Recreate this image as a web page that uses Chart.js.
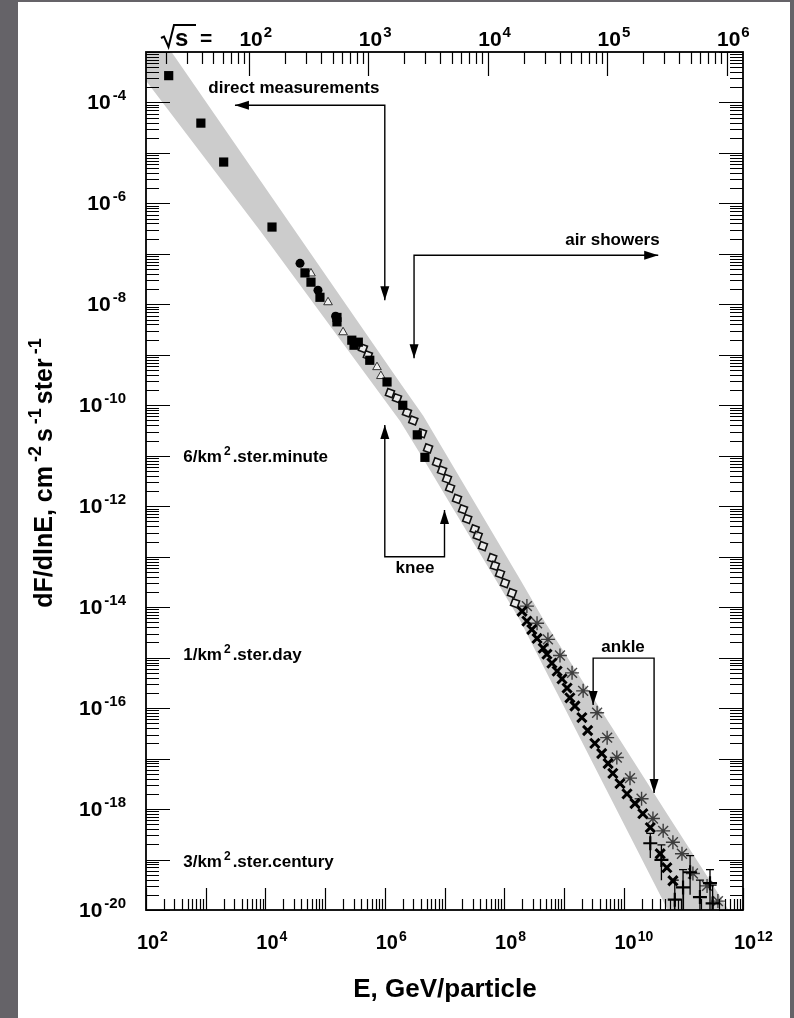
<!DOCTYPE html>
<html>
<head>
<meta charset="utf-8">
<script src="https://cdn.jsdelivr.net/npm/chart.js@4.4.0/dist/chart.umd.min.js"></script>
<style>
html,body{margin:0;padding:0;background:#656368;}
#hoja{position:absolute;left:18px;top:2px;width:772px;height:1016px;background:#fff;}
#caja{position:absolute;left:0;top:0;width:794px;height:1018px;}
</style>
</head>
<body>
<div id="hoja"></div>
<div id="caja"><canvas id="espectro" width="794" height="1018"></canvas></div>
<script>
// rangos de los ejes (E en GeV, flujo en cm^-2 s^-1 sr^-1)
const E_MIN = 1e2, E_MAX = 1e12;
const F_MIN = 1e-20, F_MAX = 1e-3;
const DOS_MP = 1.876; // 2*m_p en GeV, sqrt(s) = sqrt(2 m_p E)

// banda gris del espectro
const bandaE  = [1e2, 8.1e3, 1.8e6, 4.4e6, 1.86e8, 4.8e8, 5.5e10, 4.2e11, 1e12];
const bandaHi = [5.4e-3, 2.9e-6, 2.8e-10, 6.2e-11, 3.5e-14, 5.1e-15, 7.6e-19, 1.8e-20, 3.5e-21];
const bandaLo = [2.7e-4, 2.9e-7, 4.9e-11, 8.7e-12, 5.4e-15, 5.9e-16, 1.0e-20, 8.9e-23, 1.2e-23];

// medidas directas (cuadrados llenos)
const llenosE = [2.4e2, 8.3e2, 2.0e3, 1.29e4, 4.6e4, 5.8e4, 8.2e4, 1.58e5, 1.58e5, 2.8e5, 3.6e5, 3.05e5, 5.6e5, 1.09e6, 2.0e6, 3.5e6, 4.7e6];
const llenosF = [3.4e-4, 3.9e-5, 6.6e-6, 3.4e-7, 4.2e-8, 2.75e-8, 1.38e-8, 5.5e-9, 4.5e-9, 1.95e-9, 1.78e-9, 1.55e-9, 7.8e-10, 2.9e-10, 1.0e-10, 2.6e-11, 9.3e-12];

// circulos llenos
const circE = [3.8e4, 7.6e4, 1.5e5];
const circF = [6.5e-8, 1.9e-8, 5.8e-9];

// triangulos abiertos
const triE = [5.8e4, 1.12e5, 2.0e5, 7.4e5, 8.6e5];
const triF = [4.1e-8, 1.1e-8, 2.8e-9, 5.7e-10, 3.8e-10];

// cascadas (cuadrados abiertos)
const abiertosE = [4.3e5, 5.2e5, 1.22e6, 1.6e6, 2.35e6, 3.0e6, 4.2e6, 5.3e6, 7.5e6, 9.1e6, 1.1e7, 1.24e7, 1.62e7, 2.04e7, 2.4e7, 3.2e7, 3.6e7, 4.4e7, 6.3e7, 7.0e7, 8.5e7, 1.03e8, 1.35e8, 1.52e8];
const abiertosF = [1.35e-9, 9.8e-10, 1.74e-10, 1.38e-10, 7.2e-11, 5.0e-11, 2.8e-11, 1.4e-11, 7.4e-12, 5.1e-12, 3.5e-12, 2.3e-12, 1.4e-12, 8.7e-13, 5.6e-13, 3.5e-13, 2.6e-13, 1.62e-13, 9.4e-14, 6.6e-14, 4.6e-14, 3.0e-14, 1.9e-14, 1.2e-14];

// cruces
const crucesE = [1.99e8, 2.4e8, 2.9e8, 3.55e8, 4.5e8, 5.2e8, 6.3e8, 7.7e8, 9.3e8, 1.13e9, 1.26e9, 1.53e9, 2.0e9, 2.5e9, 3.3e9, 4.3e9, 5.5e9, 6.6e9, 8.7e9, 1.14e10, 1.55e10, 2.1e10, 2.8e10, 4.1e10, 5.3e10, 6.7e10];
const crucesF = [8.3e-15, 5.3e-15, 3.6e-15, 2.4e-15, 1.54e-15, 1.17e-15, 7.8e-16, 5.4e-16, 3.8e-16, 2.5e-16, 1.6e-16, 1.1e-16, 6.5e-17, 3.6e-17, 2.0e-17, 1.26e-17, 8.0e-18, 5.1e-18, 3.2e-18, 2.0e-18, 1.29e-18, 8.1e-19, 4.3e-19, 1.3e-19, 6.9e-20, 3.8e-20];

// asteriscos
const astE = [2.4e8, 3.55e8, 5.4e8, 8.6e8, 1.37e9, 2.1e9, 3.6e9, 5.3e9, 7.7e9, 1.28e10, 2.0e10, 3.1e10, 4.6e10, 6.7e10, 9.5e10, 1.45e11, 2.5e11, 3.8e11];
const astF = [1.05e-14, 4.8e-15, 2.3e-15, 1.1e-15, 5.0e-16, 2.2e-16, 8.1e-17, 2.6e-17, 1.05e-17, 4.1e-18, 1.6e-18, 6.5e-19, 3.7e-19, 2.2e-19, 1.3e-19, 5.3e-20, 3.0e-20, 1.5e-20];

// cola de altas energias con barras de error
const colaE  = [2.8e10, 4.3e10, 7.2e10, 9.9e10, 1.3e11, 1.9e11, 2.8e11, 3.1e11];
const colaF  = [2.1e-19, 9.8e-20, 1.6e-20, 2.8e-20, 5.6e-20, 1.8e-20, 3.4e-20, 1.35e-20];
const colaHi = [3.3e-19, 1.95e-19, 3.9e-20, 6.3e-20, 1.2e-19, 3.9e-20, 6.3e-20, 3.1e-20];
const colaLo = [1.07e-19, 3.9e-20, 1e-21, 1e-21, 2.0e-20, 1e-21, 1e-21, 1e-21];

// marcas de etiquetas
const etiqE = [2, 4, 6, 8, 10, 12];
const etiqF = [-4, -6, -8, -10, -12, -14, -16, -18, -20];
const etiqS = [2, 3, 4, 5, 6];

// flechas y textos
const flechas = [
  [[3.09e3, 8.79e-5], [1e6, 8.79e-5], [1e6, 1.21e-8]],
  [[3.8e10, 9.4e-8], [3.09e6, 9.4e-8], [3.09e6, 8.6e-10]],
  [[1e6, 4.07e-11], [1e6, 1e-13], [1e7, 1e-13], [1e7, 8.4e-13]],
  [[3.09e9, 1.15e-16], [3.09e9, 9.8e-16], [3.24e10, 9.8e-16], [3.24e10, 2.09e-18]]
];
const textos = [
  ['direct measurements', 3.0e4, 1.9e-4],
  ['air showers', 6.5e9, 1.86e-7],
  ['knee', 3.2e6, 5.9e-14],
  ['ankle', 9.8e9, 1.6e-15]
];
const tasas = [
  [['6/km', 0], ['2', 1], ['.ster.minute', 0], 1e-11],
  [['1/km', 0], ['2', 1], ['.ster.day', 0], 1.16e-15],
  [['3/km', 0], ['2', 1], ['.ster.century', 0], 9.5e-20]
];
const TASA_E = 4.2e2;

const fam = '"Liberation Sans", Arial, Helvetica, sans-serif';

function pares(xs, ys) {
  return xs.map((x, i) => ({x: x, y: ys[i]}));
}

function marcasLog(lo, hi) {
  const out = [];
  for (let d = Math.floor(Math.log10(lo)); d <= Math.ceil(Math.log10(hi)); d++) {
    for (let m = 1; m < 10; m++) {
      const v = m * Math.pow(10, d);
      if (v >= lo * 0.999 && v <= hi * 1.001) out.push({v: v, mayor: m === 1});
    }
  }
  return out;
}

// texto con superindices: segs = [[texto, esSup], ...]
function escribir(ctx, segs, x, y, tam, align, sep) {
  const tamSup = Math.round(tam * 0.7);
  const subir = Math.round(tam * 0.42);
  sep = sep === undefined ? 2 : sep;
  const anchos = segs.map(([t, s]) => {
    ctx.font = 'bold ' + (s ? tamSup : tam) + 'px ' + fam;
    return ctx.measureText(t).width + (s ? 2 * sep : 0);
  });
  const total = anchos.reduce((a, b) => a + b, 0);
  let cx = align === 'center' ? x - total / 2 : align === 'right' ? x - total : x;
  ctx.textAlign = 'left';
  ctx.textBaseline = 'alphabetic';
  segs.forEach(([t, s], i) => {
    ctx.font = 'bold ' + (s ? tamSup : tam) + 'px ' + fam;
    ctx.fillText(t, cx + (s ? sep : 0), s ? y - subir : y);
    cx += anchos[i];
  });
  return total;
}

function potencia(ctx, exp, px, y, tam) {
  ctx.font = 'bold ' + tam + 'px ' + fam;
  const w = ctx.measureText('10').width;
  escribir(ctx, [['10', 0], [String(exp), 1]], px + 2 - w / 2, y, tam, 'left', 1);
}

function punta(ctx, a, b) {
  const ang = Math.atan2(b[1] - a[1], b[0] - a[0]);
  const L = 14, H = 4.5;
  ctx.beginPath();
  ctx.moveTo(b[0], b[1]);
  ctx.lineTo(b[0] - L * Math.cos(ang) + H * Math.sin(ang), b[1] - L * Math.sin(ang) - H * Math.cos(ang));
  ctx.lineTo(b[0] - L * Math.cos(ang) - H * Math.sin(ang), b[1] - L * Math.sin(ang) + H * Math.cos(ang));
  ctx.closePath();
  ctx.fill();
}

const ejes = {
  id: 'ejes',
  afterDatasetsDraw(chart) {
    const ctx = chart.ctx;
    const {left, right, top, bottom} = chart.chartArea;
    const sx = chart.scales.x, sy = chart.scales.y, s2 = chart.scales.x2;
    ctx.save();
    ctx.strokeStyle = '#000';

    // barras de error de la cola
    ctx.lineWidth = 1.3;
    colaE.forEach((e, i) => {
      const px = sx.getPixelForValue(e);
      const y1 = Math.min(sy.getPixelForValue(colaLo[i]), bottom);
      const y2 = sy.getPixelForValue(colaHi[i]);
      ctx.beginPath();
      ctx.moveTo(px, y1); ctx.lineTo(px, y2);
      ctx.moveTo(px - 4, y2); ctx.lineTo(px + 4, y2);
      ctx.stroke();
    });

    // marco
    ctx.lineWidth = 1.8;
    ctx.strokeRect(left, top, right - left, bottom - top);

    // marcas hacia adentro
    ctx.lineWidth = 1.2;
    ctx.beginPath();
    marcasLog(E_MIN, E_MAX).forEach(t => {
      const px = Math.round(sx.getPixelForValue(t.v)) + 0.5;
      ctx.moveTo(px, bottom); ctx.lineTo(px, bottom - (t.mayor ? 22 : 11));
    });
    marcasLog(s2.min, s2.max).forEach(t => {
      const px = Math.round(s2.getPixelForValue(t.v)) + 0.5;
      ctx.moveTo(px, top); ctx.lineTo(px, top + (t.mayor ? 24 : 12));
    });
    marcasLog(F_MIN, F_MAX).forEach(t => {
      const py = Math.round(sy.getPixelForValue(t.v)) + 0.5;
      ctx.moveTo(left, py); ctx.lineTo(left + (t.mayor ? 24 : 13), py);
      ctx.moveTo(right, py); ctx.lineTo(right - (t.mayor ? 24 : 13), py);
    });
    ctx.stroke();
    ctx.restore();
  },
  afterDraw(chart) {
    const ctx = chart.ctx;
    const {left, right, top, bottom} = chart.chartArea;
    const sx = chart.scales.x, sy = chart.scales.y, s2 = chart.scales.x2;
    ctx.save();
    ctx.fillStyle = '#000';
    ctx.strokeStyle = '#000';

    // etiquetas de los ejes
    etiqE.forEach(d => potencia(ctx, d, sx.getPixelForValue(Math.pow(10, d)), bottom + 39, 20));
    etiqS.forEach(d => potencia(ctx, d, s2.getPixelForValue(Math.pow(10, d)), top - 6, 21));
    etiqF.forEach(d => {
      const py = sy.getPixelForValue(Math.pow(10, d));
      escribir(ctx, [['10', 0], [String(d), 1]], left - 18, py + 7, 21, 'right', 2);
    });

    // sqrt(s) =
    ctx.lineWidth = 2;
    ctx.beginPath();
    ctx.moveTo(161, 38); ctx.lineTo(164, 36.5); ctx.lineTo(168.5, 47); ctx.lineTo(174, 25); ctx.lineTo(196, 25);
    ctx.stroke();
    ctx.font = 'bold 24px ' + fam;
    ctx.textAlign = 'left';
    ctx.textBaseline = 'alphabetic';
    ctx.fillText('s', 175, 46);
    ctx.font = 'bold 21px ' + fam;
    ctx.fillText('=', 200, 45);

    // titulos
    ctx.font = 'bold 26px ' + fam;
    ctx.textAlign = 'center';
    ctx.fillText('E, GeV/particle', 445, 997);
    ctx.save();
    ctx.translate(52, 471);
    ctx.rotate(-Math.PI / 2);
    escribir(ctx, [['dF/dlnE, cm', 0], ['-2', 1], ['s', 0], ['-1', 1], ['ster', 0], ['-1', 1]], 0, 0, 25, 'center', 4);
    ctx.restore();

    // flechas
    ctx.lineWidth = 1.4;
    flechas.forEach(f => {
      const p = f.map(([e, v]) => [sx.getPixelForValue(e), sy.getPixelForValue(v)]);
      ctx.beginPath();
      ctx.moveTo(p[0][0], p[0][1]);
      for (let i = 1; i < p.length; i++) ctx.lineTo(p[i][0], p[i][1]);
      ctx.stroke();
      punta(ctx, p[1], p[0]);
      punta(ctx, p[p.length - 2], p[p.length - 1]);
    });

    textos.forEach(([t, e, v]) => {
      ctx.font = 'bold 17px ' + fam;
      ctx.textAlign = 'center';
      ctx.textBaseline = 'middle';
      ctx.fillText(t, sx.getPixelForValue(e), sy.getPixelForValue(v));
    });
    tasas.forEach(t => {
      escribir(ctx, t.slice(0, 3), sx.getPixelForValue(TASA_E), sy.getPixelForValue(t[3]) + 6, 17, 'left', 2);
    });
    ctx.restore();
  }
};

new Chart(document.getElementById('espectro'), {
  type: 'scatter',
  data: {
    datasets: [
      {type: 'line', label: 'bandaHi', data: pares(bandaE, bandaHi), borderWidth: 0, pointRadius: 0, fill: false, order: 10, backgroundColor: '#cccccc'},
      {type: 'line', label: 'bandaLo', data: pares(bandaE, bandaLo), borderWidth: 0, pointRadius: 0, fill: '-1', order: 10, backgroundColor: '#cccccc'},
      {label: 'directos', data: pares(llenosE, llenosF), pointStyle: 'rect', pointRadius: 6.5, backgroundColor: '#000', borderColor: '#000', borderWidth: 0},
      {label: 'circulos', data: pares(circE, circF), pointStyle: 'circle', pointRadius: 4.5, backgroundColor: '#000', borderColor: '#000', borderWidth: 0},
      {label: 'triangulos', data: pares(triE, triF), pointStyle: 'triangle', pointRadius: 5, backgroundColor: 'rgba(255,255,255,0.7)', borderColor: '#333', borderWidth: 1},
      {label: 'cascadas', data: pares(abiertosE, abiertosF), pointStyle: 'rect', rotation: 20, pointRadius: 5, backgroundColor: 'rgba(255,255,255,0.6)', borderColor: '#111', borderWidth: 1.6},
      {label: 'cruces', data: pares(crucesE, crucesF), pointStyle: 'crossRot', pointRadius: 6.5, borderColor: '#000', borderWidth: 3},
      {label: 'asteriscos', data: pares(astE, astF), pointStyle: 'star', pointRadius: 7, borderColor: 'rgba(0,0,0,0.7)', borderWidth: 1.4},
      {label: 'cola', data: pares(colaE, colaF), pointStyle: 'cross', pointRadius: 7, borderColor: '#000', borderWidth: 2.2}
    ]
  },
  options: {
    responsive: false,
    animation: false,
    events: [],
    layout: {padding: {left: 146, top: 52, right: 51, bottom: 108}},
    plugins: {legend: {display: false}, tooltip: {enabled: false}},
    scales: {
      x: {type: 'logarithmic', min: E_MIN, max: E_MAX, display: false},
      y: {type: 'logarithmic', min: F_MIN, max: F_MAX, display: false},
      x2: {type: 'logarithmic', position: 'top', min: Math.sqrt(DOS_MP * E_MIN), max: Math.sqrt(DOS_MP * E_MAX), display: false}
    }
  },
  plugins: [ejes]
});
</script>
</body>
</html>
